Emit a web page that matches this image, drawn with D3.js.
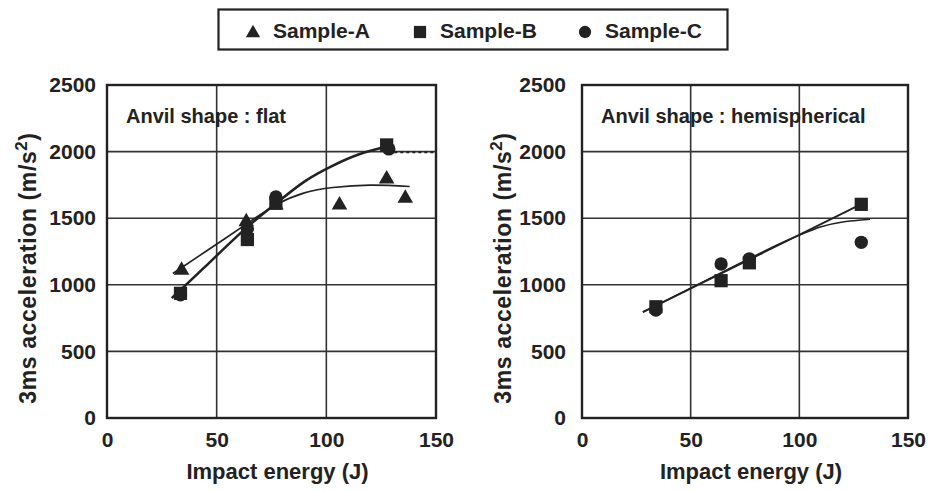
<!DOCTYPE html>
<html><head><meta charset="utf-8">
<script src="https://cdn.jsdelivr.net/npm/d3@7"></script>
<style>
html,body{margin:0;padding:0;background:#fff;}
svg text{font-family:"Liberation Sans",Arial,sans-serif;font-weight:bold;fill:#222;}
</style></head>
<body><svg id="c" width="934" height="491"></svg>
<script>
// ---- data ----
const seriesNames = ["Sample-A","Sample-B","Sample-C"];
const xTicks = [0,50,100,150];
const yTicks = [0,500,1000,1500,2000,2500];
// flat anvil
const flatEnergy = [34, 63.5, 77, 106, 127.5, 136];
const flatA = [1110, 1474, 1600, 1600, 1794, 1650];
const flatBEnergy = [33.5, 64, 77, 127.5];
const flatB = [936, 1340, 1612, 2050];
const flatCEnergy = [33.5, 64, 77, 128.5];
const flatC = [925, 1420, 1660, 2020];
const flatFitA = [[30,1085],[45,1250],[63,1450],[77,1600],[90,1690],[103,1730],[120,1748],[138,1738]];
const flatFitB = [[29.5,900],[45,1140],[63,1420],[77,1610],[90,1775],[103,1895],[115,1980],[128,2040]];
const flatFitBExt = [[131,1995],[149,1995]];
// hemispherical anvil
const hemiBEnergy = [34, 64, 77, 128.5];
const hemiB = [835, 1031, 1165, 1604];
const hemiCEnergy = [34, 64, 77, 128.5];
const hemiC = [810, 1156, 1195, 1319];
const hemiFitB = [[28,795],[128.5,1605]];
const hemiFitC = [[28,795],[50,975],[70,1140],[90,1300],[100,1372],[110,1435],[120,1472],[132.5,1492]];

const svg = d3.select("#c");
const ink = "#222";

function symbolFor(name){
  return name==="Sample-A"? d3.symbolTriangle : name==="Sample-B"? d3.symbolSquare : d3.symbolCircle;
}
function sizeFor(name){ return name==="Sample-A"?105:(name==="Sample-B"?175:140); }

function panel(x0,x1,label,pts,fits){
  const x = d3.scaleLinear().domain([0,150]).range([x0,x1]);
  const y = d3.scaleLinear().domain([0,2500]).range([418,85]);
  const g = svg.append("g");
  // grid
  g.append("g").selectAll("line").data(yTicks.slice(1,-1)).join("line")
    .attr("x1",x0).attr("x2",x1).attr("y1",d=>y(d)).attr("y2",d=>y(d))
    .attr("stroke","#333").attr("stroke-width",1.6);
  g.append("g").selectAll("line").data(xTicks.slice(1,-1)).join("line")
    .attr("y1",y(0)).attr("y2",y(2500)).attr("x1",d=>x(d)).attr("x2",d=>x(d))
    .attr("stroke","#333").attr("stroke-width",1.6);
  g.append("rect").attr("x",x0).attr("y",y(2500)).attr("width",x1-x0).attr("height",y(0)-y(2500))
    .attr("fill","none").attr("stroke",ink).attr("stroke-width",2.4);
  // axes (labels only)
  const ax = g.append("g").attr("transform",`translate(0,${y(0)})`)
    .call(d3.axisBottom(x).tickValues(xTicks).tickSize(0).tickPadding(14).tickFormat(d3.format("d")));
  ax.select(".domain").remove();
  ax.selectAll("text").attr("font-size",21).attr("font-family","Liberation Sans").attr("font-weight","bold").attr("fill",ink);
  const ay = g.append("g").attr("transform",`translate(${x0},0)`)
    .call(d3.axisLeft(y).tickValues(yTicks).tickSize(0).tickPadding(x0<300?11:16).tickFormat(d3.format("d")));
  ay.select(".domain").remove();
  ay.selectAll("text").attr("font-size",21).attr("font-family","Liberation Sans").attr("font-weight","bold").attr("fill",ink);
  // titles
  g.append("text").attr("x",(x0+x1)/2+6).attr("y",479).attr("text-anchor","middle")
    .attr("font-size",22).text("Impact energy (J)");
  const yt = g.append("text").attr("transform",`translate(${x0-71},268) rotate(-90)`)
    .attr("text-anchor","middle").attr("font-size",23).attr("letter-spacing",0.6);
  yt.append("tspan").text("3ms acceleration  (m/s");
  yt.append("tspan").attr("dy",-9).attr("font-size",17).text("2");
  yt.append("tspan").attr("dy",9).text(")");
  g.append("text").attr("x",x0+19).attr("y",123).attr("font-size",20).text(label);
  // fits
  const line = d3.line().x(d=>x(d[0])).y(d=>y(d[1])).curve(d3.curveNatural);
  fits.forEach(f=>{
    g.append("path").attr("d",line(f.data)).attr("fill","none").attr("stroke",ink)
      .attr("stroke-width",f.w).attr("stroke-dasharray",f.dash||null);
  });
  // points
  pts.forEach(s=>{
    g.append("g").selectAll("path").data(s.xs.map((v,i)=>[v,s.ys[i]])).join("path")
      .attr("transform",d=>`translate(${x(d[0])},${y(d[1])})`)
      .attr("d",d3.symbol().type(symbolFor(s.name)).size(sizeFor(s.name))())
      .attr("fill",ink);
  });
}

panel(107,436,"Anvil shape : flat",
  [{name:"Sample-C",xs:flatCEnergy,ys:flatC},{name:"Sample-A",xs:flatEnergy,ys:flatA},{name:"Sample-B",xs:flatBEnergy,ys:flatB}],
  [{data:flatFitA,w:1.6},{data:flatFitB,w:2.6},{data:flatFitBExt,w:2,dash:"3,3"}]);
panel(582,908,"Anvil shape : hemispherical",
  [{name:"Sample-C",xs:hemiCEnergy,ys:hemiC},{name:"Sample-B",xs:hemiBEnergy,ys:hemiB}],
  [{data:hemiFitB,w:2},{data:hemiFitC,w:1.6}]);

// legend
const lg = svg.append("g");
lg.append("rect").attr("x",218.5).attr("y",9.5).attr("width",509).attr("height",40)
  .attr("fill","#fff").attr("stroke",ink).attr("stroke-width",2.2);
const lx = [253, 420, 585];
seriesNames.forEach((n,i)=>{
  lg.append("path").attr("transform",`translate(${lx[i]},${n==="Sample-A"?33:32})`)
    .attr("d",d3.symbol().type(symbolFor(n)).size(sizeFor(n)*0.85)()).attr("fill",ink);
  lg.append("text").attr("x",lx[i]+20).attr("y",38).attr("font-size",21).text(n);
});
</script></body></html>
